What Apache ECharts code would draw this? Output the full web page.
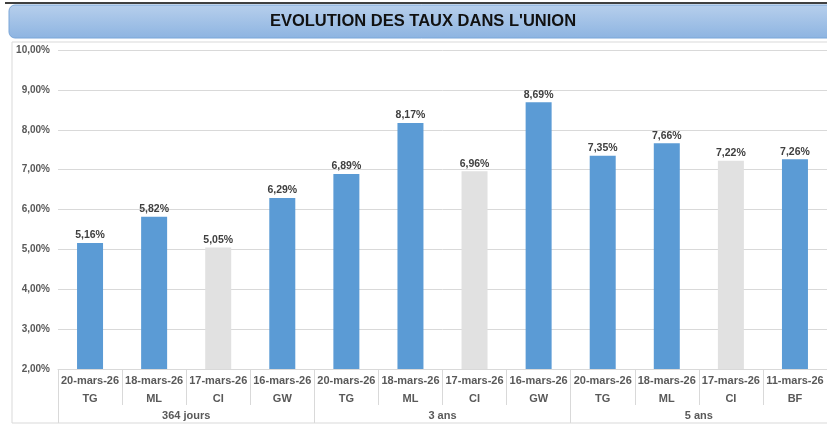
<!DOCTYPE html>
<html>
<head>
<meta charset="utf-8">
<script src="https://cdn.jsdelivr.net/npm/echarts@6/dist/echarts.min.js"></script>
<style>
html,body{margin:0;padding:0;background:#fff;}
#main{width:827px;height:427px;}
</style>
</head>
<body>
<div id="main"></div>
<script>
const dates = ['20-mars-26','18-mars-26','17-mars-26','16-mars-26','20-mars-26','18-mars-26','17-mars-26','16-mars-26','20-mars-26','18-mars-26','17-mars-26','11-mars-26'];
const codes = ['TG','ML','CI','GW','TG','ML','CI','GW','TG','ML','CI','BF'];
const groups = ['364 jours','3 ans','5 ans'];
const rates = [5.16, 5.82, 5.05, 6.29, 6.89, 8.17, 6.96, 8.69, 7.35, 7.66, 7.22, 7.26];
const yTicks = [2,3,4,5,6,7,8,9,10];

const FONT = '"Liberation Sans", Arial, sans-serif';
const fmt = v => v.toFixed(2).replace('.', ',') + '%';
const labels = dates.map((d, i) => d + '|' + codes[i]);

const chart = echarts.init(document.getElementById('main'), null, {renderer: 'canvas'});
chart.setOption({
  animation: false,
  backgroundColor: '#ffffff',
  graphic: [
    {type: 'line', shape: {x1: 5, y1: 3, x2: 827, y2: 3}, style: {stroke: '#000', lineWidth: 1.5}, z: 10},
    {type: 'rect', shape: {x: 9, y: 5, width: 830, height: 33, r: 6},
     style: {fill: new echarts.graphic.LinearGradient(0, 0, 0, 1, [
       {offset: 0, color: '#b7cfec'}, {offset: 1, color: '#8db4e1'}]),
       stroke: '#7ba6d8', lineWidth: 1}, z: 5},
    {type: 'text', x: 423, y: 21, style: {text: "EVOLUTION DES TAUX DANS L'UNION", font: 'bold 16.5px ' + FONT,
       fill: '#111', textAlign: 'center', textVerticalAlign: 'middle'}, z: 11},
    {type: 'rect', shape: {x: 12, y: 42, width: 830, height: 381},
     style: {fill: 'none', stroke: '#d9d9d9', lineWidth: 1}, z: 1}
  ],
  grid: {left: 58, top: 50, width: 773, height: 319, containLabel: false},
  xAxis: [
    {
      type: 'category', data: labels, position: 'bottom',
      axisLine: {show: true, lineStyle: {color: '#d9d9d9'}},
      axisTick: {show: true, length: 36, lineStyle: {color: '#d9d9d9'}},
      axisLabel: {
        interval: 0, margin: 3,
        formatter: v => { const p = v.split('|'); return '{d|' + p[0] + '}\n{c|' + p[1] + '}'; },
        rich: {
          d: {fontFamily: FONT, fontWeight: 'bold', fontSize: 11, color: '#595959', lineHeight: 18},
          c: {fontFamily: FONT, fontWeight: 'bold', fontSize: 11, color: '#595959', lineHeight: 18}
        }
      }
    },
    {
      type: 'category', data: groups, position: 'bottom',
      axisLine: {show: false},
      axisTick: {show: true, length: 54, lineStyle: {color: '#d9d9d9'}},
      axisLabel: {interval: 0, margin: 41, fontFamily: FONT, fontWeight: 'bold', fontSize: 11, color: '#595959'}
    }
  ],
  yAxis: {
    type: 'value', min: yTicks[0], max: yTicks[yTicks.length - 1], interval: 1,
    axisLine: {show: false}, axisTick: {show: false},
    splitLine: {lineStyle: {color: '#d9d9d9'}},
    axisLabel: {margin: 8, formatter: fmt, fontFamily: FONT, fontWeight: 'bold', fontSize: 10, color: '#595959'}
  },
  series: [{
    type: 'bar', xAxisIndex: 0, barWidth: 26,
    data: rates.map((v, i) => ({value: v, itemStyle: {color: codes[i] === 'CI' ? '#e1e1e1' : '#5b9bd5'}})),
    label: {show: true, position: 'top', distance: 2, formatter: p => fmt(p.value),
      fontFamily: FONT, fontWeight: 'bold', fontSize: 10.5, color: '#404040'}
  }]
});
</script>
</body>
</html>
